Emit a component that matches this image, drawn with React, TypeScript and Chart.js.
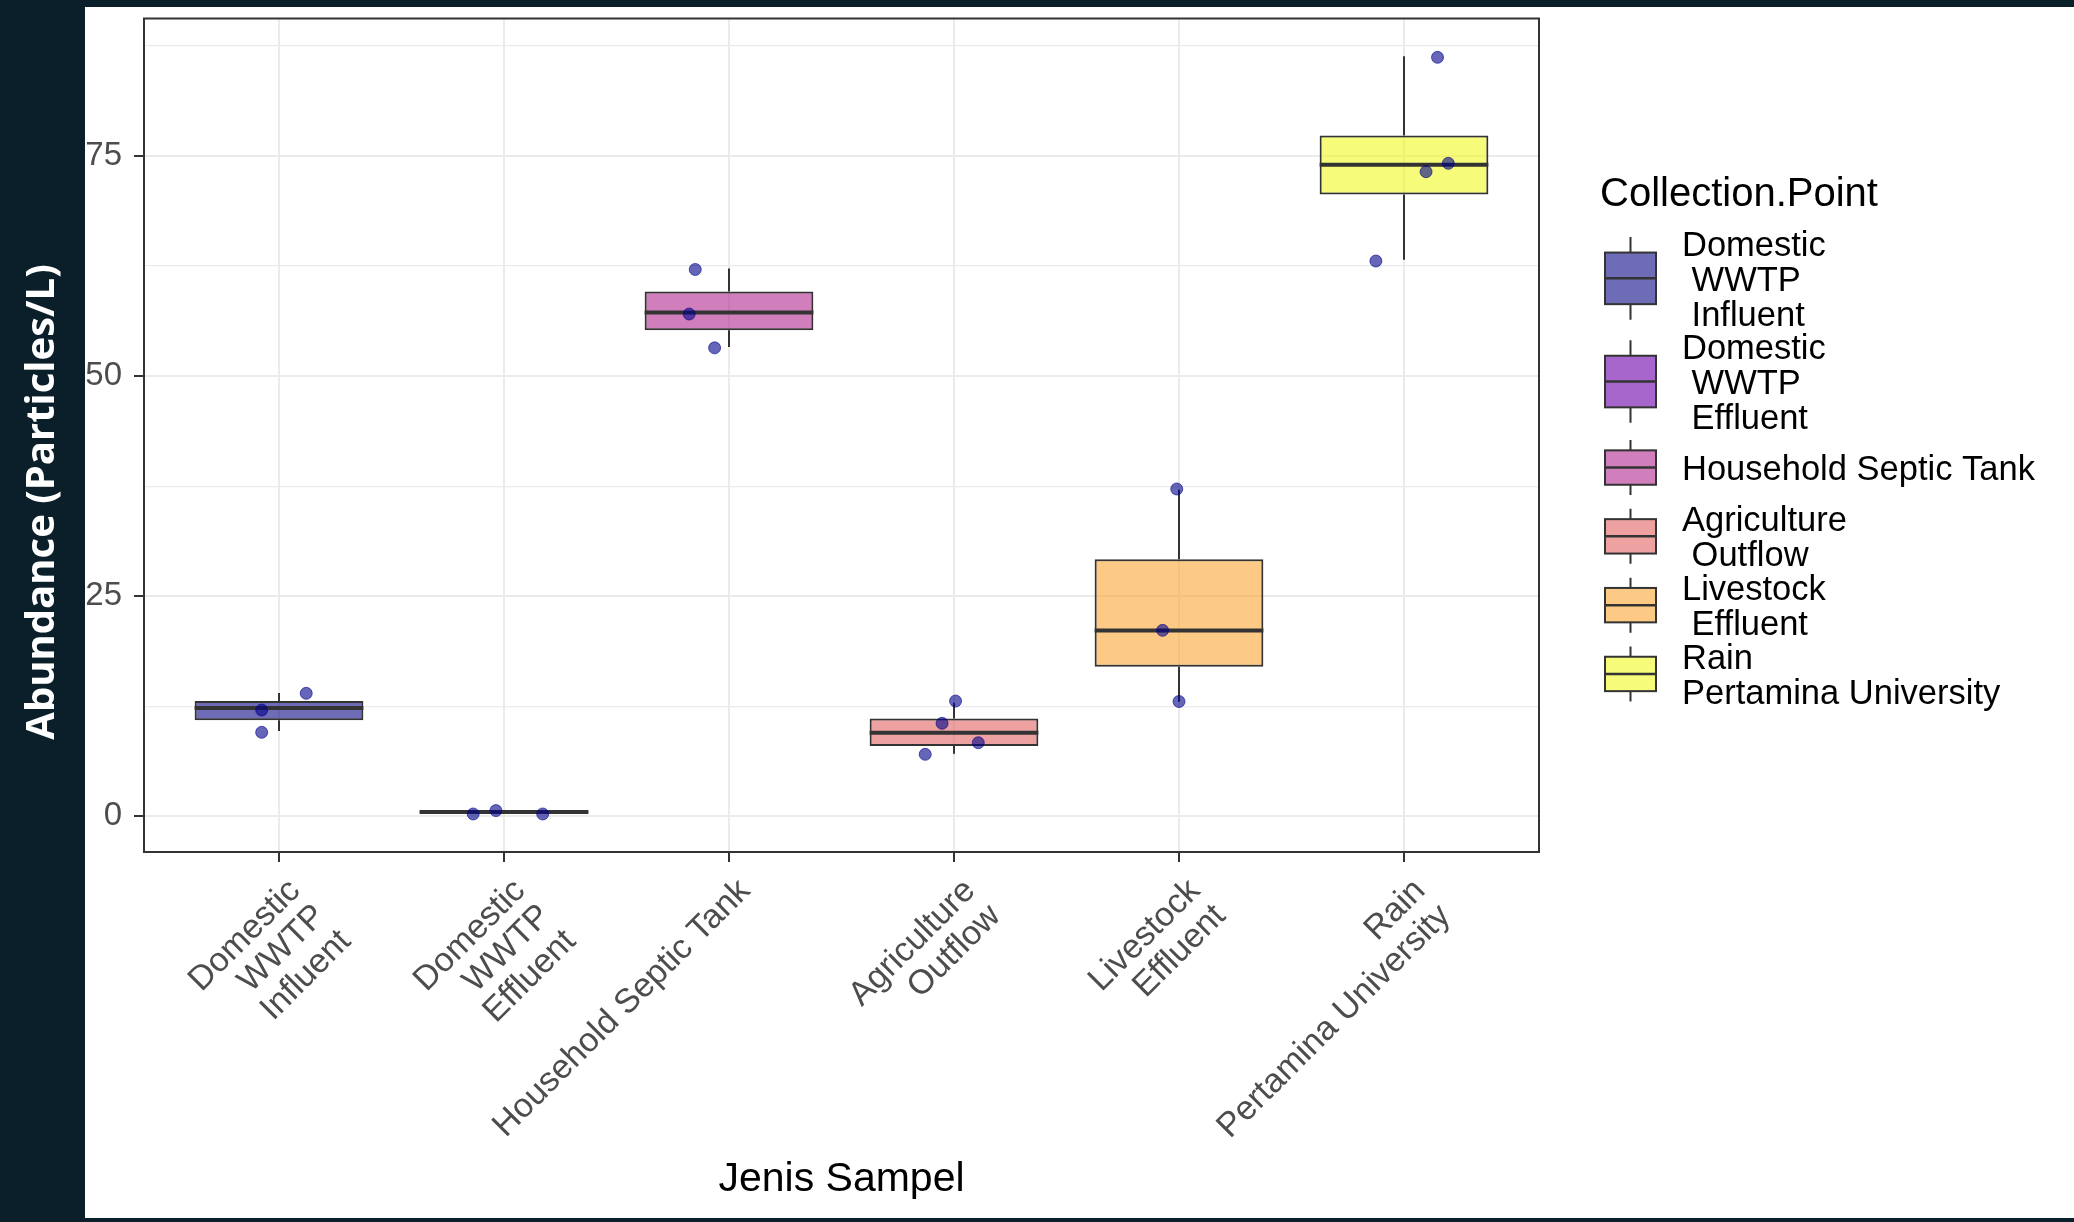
import React, { useEffect, useRef } from 'react';
import { Chart, registerables } from 'chart.js';

Chart.register(...registerables);

// ---------- data ----------
const categories = [
  'Domestic\n WWTP\n Influent',
  'Domestic\n WWTP\n Effluent',
  'Household Septic Tank',
  'Agriculture\n Outflow',
  'Livestock\n Effluent',
  'Rain\nPertamina University',
];
const whiskerLow = [9.7, 0.3, 53.3, 7.1, 13.0, 63.2];
const quartile1 = [10.9, 0.3, 55.2, 8.0, 17.0, 70.6];
const medians = [12.3, 0.5, 57.2, 9.5, 21.1, 74.0];
const quartile3 = [13.1, 0.6, 59.6, 11.1, 29.2, 77.3];
const whiskerHigh = [14.0, 0.7, 62.2, 12.9, 37.1, 86.3];

const pointCategory = [1, 1, 1, 2, 2, 2, 3, 3, 3, 4, 4, 4, 4, 5, 5, 5, 6, 6, 6, 6];
const pointJitter = [-0.077, 0.121, -0.077, -0.137, -0.036, 0.172, -0.15, -0.177, -0.064, 0.007, -0.053, 0.108, -0.128, -0.01, -0.073, 0.0, 0.149, 0.098, 0.197, -0.125];
const pointValues = [12.07, 13.97, 9.54, 0.27, 0.65, 0.27, 62.1, 57.04, 53.2, 13.09, 10.56, 8.36, 7.04, 37.17, 21.12, 13.04, 86.19, 73.2, 74.15, 63.06];

const yMajorTicks = [0, 25, 50, 75];
const yMinorTicks = [12.5, 37.5, 62.5, 87.5];

const legendTitle = 'Collection.Point';
const xTitle = 'Jenis Sampel';
const yTitle = 'Abundance (Particles/L)';

// ---------- styles ----------
const fillColors = [
  'rgba(13,8,135,0.6)',
  'rgba(106,0,168,0.6)',
  'rgba(177,42,144,0.6)',
  'rgba(225,100,98,0.6)',
  'rgba(252,166,54,0.6)',
  'rgba(240,249,33,0.6)',
];
const LINE = '#333333';
const GRID = '#EBEBEB';
const DARK = '#0B1F2A';
const BOX_HALF = 0.375;
const FONT = '"Liberation Sans", Arial, sans-serif';

const xIdx = categories.map((_, i) => i + 1);

const framePlugin = {
  id: 'frame',
  beforeDraw(chart: any) {
    const { ctx, width, height } = chart;
    ctx.save();
    ctx.fillStyle = '#ffffff';
    ctx.fillRect(0, 0, width, height);
    ctx.restore();
  },
  afterDatasetsDraw(chart: any) {
    const { ctx, chartArea } = chart;
    ctx.save();
    ctx.strokeStyle = LINE;
    ctx.lineWidth = 2;
    ctx.strokeRect(chartArea.left, chartArea.top, chartArea.right - chartArea.left, chartArea.bottom - chartArea.top);
    ctx.restore();
  },
  afterDraw(chart: any) {
    const { ctx, width, height } = chart;
    ctx.save();
    // dark slide frame
    ctx.fillStyle = DARK;
    ctx.fillRect(0, 0, 85, height);
    ctx.fillRect(0, 0, width, 7);
    ctx.fillRect(0, 1218, width, height - 1218);
    // y title
    ctx.save();
    ctx.translate(54, 502);
    ctx.rotate(-Math.PI / 2);
    ctx.font = 'bold 40px "Open Sans", sans-serif';
    ctx.fillStyle = '#ffffff';
    ctx.textAlign = 'center';
    ctx.textBaseline = 'alphabetic';
    ctx.fillText(yTitle, 0, 0);
    ctx.restore();

    // legend
    ctx.fillStyle = '#000000';
    ctx.textAlign = 'left';
    ctx.textBaseline = 'alphabetic';
    ctx.font = '40px ' + FONT;
    ctx.fillText(legendTitle, 1600, 206);

    const keyLine = 34.4;
    const textLine = 35.2;
    const gx = 1630.5;
    const bw = 51;
    let y = 226.75;
    categories.forEach((label, i) => {
      const lines = label.split('\n');
      const H = Math.max(lines.length, 2) * keyLine;
      const cy = y + H / 2;
      ctx.strokeStyle = LINE;
      ctx.lineWidth = 2;
      ctx.beginPath();
      ctx.moveTo(gx, cy - 0.4 * H);
      ctx.lineTo(gx, cy - 0.25 * H);
      ctx.moveTo(gx, cy + 0.25 * H);
      ctx.lineTo(gx, cy + 0.4 * H);
      ctx.stroke();
      ctx.fillStyle = '#ffffff';
      ctx.fillRect(gx - bw / 2, cy - 0.25 * H, bw, 0.5 * H);
      ctx.fillStyle = fillColors[i];
      ctx.fillRect(gx - bw / 2, cy - 0.25 * H, bw, 0.5 * H);
      ctx.strokeRect(gx - bw / 2, cy - 0.25 * H, bw, 0.5 * H);
      ctx.lineWidth = 2.5;
      ctx.beginPath();
      ctx.moveTo(gx - bw / 2, cy);
      ctx.lineTo(gx + bw / 2, cy);
      ctx.stroke();

      ctx.fillStyle = '#000000';
      ctx.font = '34.5px ' + FONT;
      ctx.textBaseline = 'middle';
      lines.forEach((ln, j) => {
        ctx.fillText(ln, 1682, cy + (j - (lines.length - 1) / 2) * textLine + 3);
      });
      y += H;
    });
    ctx.restore();
  },
};

export default function App() {
  const ref = useRef<HTMLCanvasElement>(null);
  useEffect(() => {
    if (!ref.current) return;
    Chart.defaults.font.family = FONT;
    const chart = new Chart(ref.current, {
      type: 'bar',
      data: {
        datasets: [
          {
            type: 'scatter',
            data: pointCategory.map((c, i) => ({ x: c + pointJitter[i], y: pointValues[i] })),
            backgroundColor: 'rgba(0,0,139,0.6)',
            borderColor: 'rgba(0,0,139,0.6)',
            borderWidth: 1,
            pointRadius: 6,
            order: 0,
          } as any,
          {
            type: 'line',
            data: xIdx.flatMap((x, i) => [
              { x: x - BOX_HALF, y: medians[i] },
              { x: x + BOX_HALF, y: medians[i] },
              { x: x + 0.5, y: null },
            ]),
            borderColor: LINE,
            borderWidth: 4,
            pointRadius: 0,
            spanGaps: false,
            fill: false,
            borderCapStyle: 'butt',
            order: 1,
          } as any,
          {
            type: 'bar',
            data: xIdx.map((x, i) => ({ x, y: [quartile1[i], quartile3[i]] })),
            backgroundColor: fillColors,
            borderColor: LINE,
            borderWidth: 2,
            borderSkipped: false,
            categoryPercentage: 1,
            barPercentage: 0.75,
            order: 2,
          } as any,
          {
            type: 'line',
            data: xIdx.flatMap((x, i) => [
              { x, y: whiskerHigh[i] },
              { x, y: quartile3[i] },
              { x, y: null },
              { x, y: quartile1[i] },
              { x, y: whiskerLow[i] },
              { x, y: null },
            ]),
            borderColor: LINE,
            borderWidth: 2,
            pointRadius: 0,
            spanGaps: false,
            fill: false,
            order: 3,
          } as any,
        ],
      },
      options: {
        animation: false,
        responsive: true,
        maintainAspectRatio: false,
        devicePixelRatio: 1,
        events: [],
        layout: { padding: { left: 0, top: 18.5, right: 535, bottom: 0 } },
        plugins: { legend: { display: false }, tooltip: { enabled: false } },
        scales: {
          x: {
            type: 'linear',
            min: 0.4,
            max: 6.6,
            offset: false,
            border: { display: false },
            grid: {
              color: GRID,
              lineWidth: 2,
              offset: false,
              tickLength: 10,
              tickColor: LINE,
              tickWidth: 2,
            },
            ticks: {
              autoSkip: false,
              minRotation: 45,
              maxRotation: 45,
              padding: 11,
              labelOffset: 16,
              color: '#4D4D4D',
              font: { family: FONT, size: 34, lineHeight: 1.05 },
              callback: (v: any) => {
                const c = categories[Math.round(v) - 1];
                return c ? c.split('\n') : '';
              },
            },
            title: {
              display: true,
              text: xTitle,
              color: '#000000',
              font: { family: FONT, size: 41 },
              padding: { top: 0, bottom: 18 },
            },
            afterBuildTicks: (s: any) => {
              s.ticks = xIdx.map((v) => ({ value: v }));
            },
            afterFit: (s: any) => {
              s.height = 370;
              s.paddingLeft = 0;
              s.paddingRight = 0;
            },
          } as any,
          y: {
            type: 'linear',
            min: -4.05,
            max: 90.6,
            border: { display: false },
            grid: {
              color: GRID,
              lineWidth: (c: any) => (yMajorTicks.includes(c.tick?.value) ? 2 : 1.2),
              tickLength: 10,
              tickColor: (c: any) => (yMajorTicks.includes(c.tick?.value) ? LINE : 'rgba(0,0,0,0)'),
              tickWidth: 2,
            },
            ticks: {
              padding: 12,
              color: '#4D4D4D',
              font: { family: FONT, size: 33 },
              callback: (v: any) => (yMajorTicks.includes(v) ? String(v) : ''),
            },
            afterBuildTicks: (s: any) => {
              s.ticks = [...yMajorTicks, ...yMinorTicks].sort((a, b) => a - b).map((v) => ({ value: v }));
            },
            afterFit: (s: any) => {
              s.width = 144;
              s.paddingTop = 0;
              s.paddingBottom = 0;
            },
          } as any,
        },
      },
      plugins: [framePlugin],
    } as any);
    let alive = true;
    if ((document as any).fonts?.ready) {
      (document as any).fonts.ready.then(() => {
        if (alive) chart.update();
      });
    }
    return () => {
      alive = false;
      chart.destroy();
    };
  }, []);
  return (
    <div style={{ position: 'fixed', left: 0, top: 0, width: 2074, height: 1222 }}>
      <canvas ref={ref} />
    </div>
  );
}
